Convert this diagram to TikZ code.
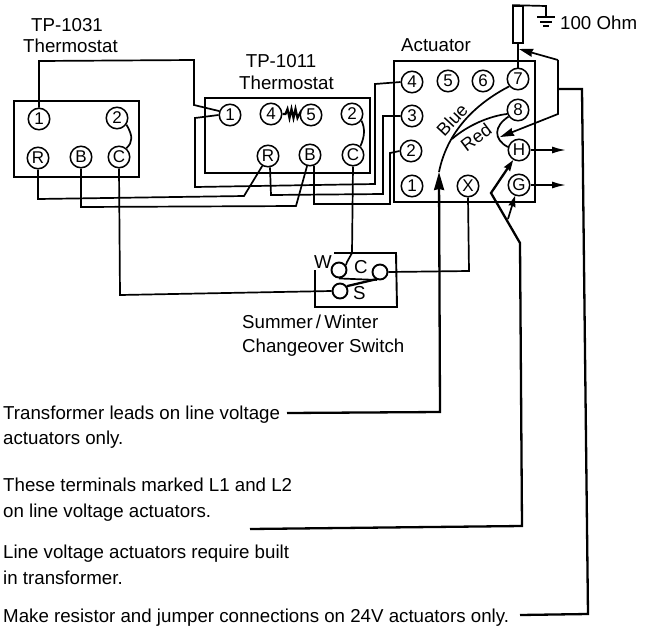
\documentclass[tikz,border=0pt]{standalone}
\usepackage{fontspec}
\setmainfont{Liberation Sans}
\usetikzlibrary{arrows.meta}
\tikzset{
  wire/.style={line width=1.7pt,line join=miter},
  heavy/.style={line width=2.3pt,line join=miter},
  box/.style={line width=1.9pt},
  term/.style={circle,draw,line width=1.5pt,inner sep=0pt,minimum size=21.5pt,fill=white,font=\fontsize{17}{17}\selectfont},
  contact/.style={circle,draw,line width=1.9pt,inner sep=0pt,minimum size=15pt},
  txt/.style={anchor=base west,inner sep=0pt,font=\fontsize{18.7}{18.7}\selectfont},
  txtc/.style={anchor=base,inner sep=0pt,font=\fontsize{18.7}{18.7}\selectfont},
  txtr/.style={anchor=center,inner sep=0pt,font=\fontsize{18}{18}\selectfont},
  head/.style={-{Stealth[length=18pt,width=10pt,inset=1pt]}},
  mhead/.style={-{Stealth[length=14pt,width=8pt,inset=1pt]}},
  shead/.style={-{Stealth[length=11pt,width=7pt,inset=1pt]}},
}
\begin{document}
\begin{tikzpicture}[x=1pt,y=-1pt]
\useasboundingbox (0,0) rectangle (651,630);
% boxes
\draw[box] (14,101) rectangle (139,177);
\draw[box] (205,98) rectangle (370,173);
\draw[box] (394,61) rectangle (535,202);
\draw[box] (334,253) -- (396,253) -- (397,307) -- (315,307) -- (315,270);
% TP-1031 terminals
\node[term] (a1) at (39,119) {1};
\node[term] (a2) at (117,118) {2};
\node[term] (aR) at (38,158) {R};
\node[term] (aB) at (81,157) {B};
\node[term] (aC) at (119,157) {C};
% TP-1011 terminals
\node[term] (b1) at (230,115) {1};
\node[term] (b4) at (271,114) {4};
\node[term] (b5) at (311,115) {5};
\node[term] (b2) at (352,114) {2};
\node[term] (bR) at (268,156) {R};
\node[term] (bB) at (310,155) {B};
\node[term] (bC) at (353,155) {C};
% actuator terminals
\node[term] (c4) at (412,82) {4};
\node[term] (c5) at (448,81) {5};
\node[term] (c6) at (483,81) {6};
\node[term] (c7) at (518,79) {7};
\node[term] (c8) at (518,110) {8};
\node[term] (c3) at (412,116) {3};
\node[term] (c2) at (411,151) {2};
\node[term] (c1) at (412,186) {1};
\node[term] (cX) at (468,186) {X};
\node[term] (cH) at (519,150) {H};
\node[term] (cG) at (519,185) {G};
% switch contacts
\node[contact] (sW) at (339,270) {};
\node[contact] (sC) at (380,272) {};
\node[contact] (sS) at (340,291) {};
% jumpers
\draw[wire] (a2.-35) .. controls (133,136) and (133,142) .. (aC.50);
\draw[wire] (b2.-35) .. controls (365,128) and (365,136) .. (bC.50);
\draw[line width=2.2pt] (b4.east) -- ++(3,0) -- ++(2,-5) -- ++(2,9) -- ++(2,-9) -- ++(2,9) -- ++(2,-9) -- ++(2,9) -- ++(2,-4) -- (b5.west);
% wiring between thermostats and actuator
\draw[wire] (a1.north) -- (39,61) -- (194,60) -- (194,105) -- (b1.160);
\draw[wire] (b1.west) -- (195,118) -- (195,187) -- (375,184) -- (375,84) -- (c4.west);
\draw[wire] (bR.-80) -- (271,195) -- (383,194) -- (383,116) -- (c3.west);
\draw[wire] (bB.-70) -- (314,204) -- (390,204) -- (390,153) -- (c2.west);
\draw[wire] (aR.south) -- (38,199) -- (244,196) -- (bR.-120);
\draw[wire] (aB.south) -- (81,207) -- (296,206) -- (bB.-105);
\draw[wire] (aC.south) -- (120,295) -- (sS.west);
% switch
\draw[wire] (bC.south) -- (352,253) -- (347,262) -- (sW.35);
\draw[wire] (sW.south) -- (sC.-110);
\draw[heavy] (sS.35) -- (sC.-120);
\draw[wire] (sC.east) -- (469,271) -- (cX.south);
% resistor and ground
\node[draw,line width=1.7pt,minimum width=10pt,minimum height=37pt,inner sep=0pt] (res) at (518,24.5) {};
\coordinate (g0) at (546,17);
\coordinate (g1) at (537,17);
\coordinate (g2) at (555,17);
\draw[wire] (res.north west) -- (546,6) -- (g0);
\draw[wire] (g1) -- (g2);
\draw[wire] (540,22) -- (552,22);
\draw[wire] (543,26) -- (549,26);
\draw[wire] (res.south) -- (c7.north);
\coordinate (w0) at (519,49);
\coordinate (w1) at (558,60);
\coordinate (w2) at (558,114);
\coordinate (w3) at (500,137);
\coordinate (w4) at (558,89);
\draw[wire,mhead] (w1) -- (w0);
\draw[wire,mhead] (w1) -- (w2) -- (w3);
% blue and red leads
\coordinate (ba) at (439,172);
\coordinate (ra) at (452,139);
\draw[wire] (ba) .. controls (447,132) and (475,104) .. (c7.-140);
\draw[wire] (ra) .. controls (468,125) and (490,116) .. (c8.200);
\draw[wire] (c8.215) .. controls (494,126) and (493,139) .. (cH.165);
\node[txtr,rotate=47] at (452,120) {Blue};
\node[txtr,rotate=37] at (476,137) {Red};
% outputs
\coordinate (oH) at (566,150);
\coordinate (oG) at (566,185);
\draw[wire,-{Latex[length=14pt,width=7pt]}] (cH.east) -- (oH);
\draw[wire,-{Latex[length=14pt,width=7pt]}] (cG.east) -- (oG);
% transformer and terminal leaders
\coordinate (n1) at (287,413);
\coordinate (n1c) at (440,412);
\draw[heavy,head] (n1) -- (n1c) -- (ba);
\coordinate (n2) at (250,529);
\coordinate (n2c) at (522,526);
\coordinate (j0) at (520,243);
\coordinate (j1) at (491,193);
\coordinate (j2) at (508,219);
\draw[heavy,shead] (n2) -- (n2c) -- (j0) -- (j1) -- (cH.-120);
\draw[wire,shead] (j2) -- (cG.-110);
\coordinate (n3) at (520,615);
\coordinate (n3c) at (588,614);
\draw[heavy] (n3) -- (n3c) -- (582,89) -- (w4);
% labels
\node[txtc] at (67,31) {TP-1031};
\node[txtc] at (70.5,52) {Thermostat};
\node[txtc] at (281,67) {TP-1011};
\node[txtc] at (286.5,89) {Thermostat};
\node[txt] at (401,51) {Actuator};
\node[txt] at (560,29) {100 Ohm};
\node[txt] at (314,268) {W};
\node[txt] at (354,273) {C};
\node[txt] at (353,299) {S};
\node[txt] at (242,328) {Summer\,/\,Winter};
\node[txt] at (242,352) {Changeover Switch};
\node[txt] at (3,419) {Transformer leads on line voltage};
\node[txt] at (3,444) {actuators only.};
\node[txt] at (3,491) {These terminals marked L1 and L2};
\node[txt] at (3,517) {on line voltage actuators.};
\node[txt] at (3,558) {Line voltage actuators require built};
\node[txt] at (3,584) {in transformer.};
\node[txt] at (3,622) {Make resistor and jumper connections on 24V actuators only.};
\end{tikzpicture}
\end{document}
